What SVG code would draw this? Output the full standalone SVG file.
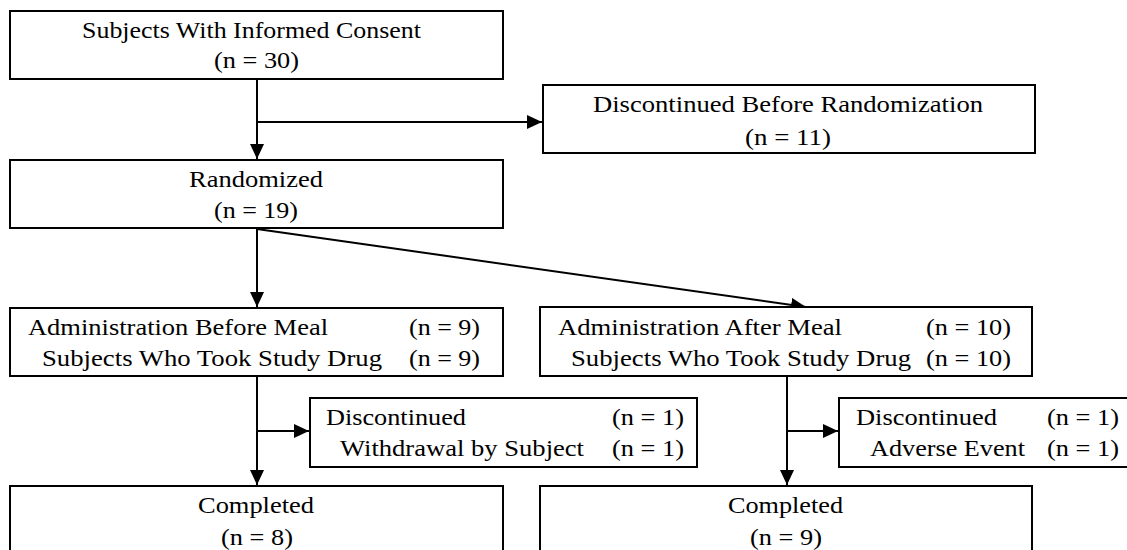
<svg xmlns="http://www.w3.org/2000/svg" width="1127" height="550" viewBox="0 0 1127 550">
<style>
.box{fill:#fff;stroke:#000;stroke-width:2}
.t{font-family:"Liberation Serif","Times New Roman",serif;font-size:23px;fill:#000}
.ln{stroke:#000;stroke-width:2;fill:none}
</style>
<defs>
<marker id="ah" markerUnits="userSpaceOnUse" markerWidth="16" markerHeight="16" viewBox="0 0 16 16" refX="15" refY="8" orient="auto">
<path d="M0,1 L15,8 L0,15 Z" fill="#000"/>
</marker>
</defs>
<rect width="1127" height="550" fill="#fff"/>
<g id="connectors">
<line class="ln" x1="257" y1="79" x2="257" y2="159" marker-end="url(#ah)"/>
<line class="ln" x1="257" y1="122" x2="542" y2="122" marker-end="url(#ah)"/>
<line class="ln" x1="257" y1="228" x2="257" y2="307" marker-end="url(#ah)"/>
<line class="ln" x1="257" y1="229" x2="806" y2="307" marker-end="url(#ah)"/>
<line class="ln" x1="257" y1="376" x2="257" y2="485" marker-end="url(#ah)"/>
<line class="ln" x1="257" y1="431" x2="309" y2="431" marker-end="url(#ah)"/>
<line class="ln" x1="787" y1="376" x2="787" y2="485" marker-end="url(#ah)"/>
<line class="ln" x1="787" y1="431" x2="838" y2="431" marker-end="url(#ah)"/>
</g>
<g id="consent">
<rect class="box" x="10" y="11" width="493" height="68"/>
<text class="t" x="82" y="38" textLength="339" lengthAdjust="spacingAndGlyphs">Subjects With Informed Consent</text>
<text class="t" x="214" y="68" textLength="85" lengthAdjust="spacingAndGlyphs">(n = 30)</text>
</g>
<g id="discBefore">
<rect class="box" x="543" y="85" width="492" height="68"/>
<text class="t" x="593" y="112" textLength="390" lengthAdjust="spacingAndGlyphs">Discontinued Before Randomization</text>
<text class="t" x="745" y="145" textLength="86" lengthAdjust="spacingAndGlyphs">(n = 11)</text>
</g>
<g id="randomized">
<rect class="box" x="10" y="160" width="493" height="68"/>
<text class="t" x="189" y="187" textLength="134" lengthAdjust="spacingAndGlyphs">Randomized</text>
<text class="t" x="214" y="218" textLength="84" lengthAdjust="spacingAndGlyphs">(n = 19)</text>
</g>
<g id="beforeMeal">
<rect class="box" x="10" y="308" width="493" height="68"/>
<text class="t" x="28" y="335" textLength="300" lengthAdjust="spacingAndGlyphs">Administration Before Meal</text>
<text class="t" x="42" y="366" textLength="340" lengthAdjust="spacingAndGlyphs">Subjects Who Took Study Drug</text>
<text class="t" x="409" y="335" textLength="71" lengthAdjust="spacingAndGlyphs">(n = 9)</text>
<text class="t" x="409" y="366" textLength="71" lengthAdjust="spacingAndGlyphs">(n = 9)</text>
</g>
<g id="afterMeal">
<rect class="box" x="540" y="307" width="492" height="69"/>
<text class="t" x="558" y="335" textLength="284" lengthAdjust="spacingAndGlyphs">Administration After Meal</text>
<text class="t" x="571" y="366" textLength="340" lengthAdjust="spacingAndGlyphs">Subjects Who Took Study Drug</text>
<text class="t" x="926" y="335" textLength="85" lengthAdjust="spacingAndGlyphs">(n = 10)</text>
<text class="t" x="926" y="366" textLength="85" lengthAdjust="spacingAndGlyphs">(n = 10)</text>
</g>
<g id="discLeft">
<rect class="box" x="310" y="398" width="387" height="69"/>
<text class="t" x="326" y="425" textLength="140" lengthAdjust="spacingAndGlyphs">Discontinued</text>
<text class="t" x="340" y="456" textLength="244" lengthAdjust="spacingAndGlyphs">Withdrawal by Subject</text>
<text class="t" x="612" y="425" textLength="72" lengthAdjust="spacingAndGlyphs">(n = 1)</text>
<text class="t" x="612" y="456" textLength="72" lengthAdjust="spacingAndGlyphs">(n = 1)</text>
</g>
<g id="discRight">
<rect class="box" x="839" y="398" width="300" height="69"/>
<text class="t" x="856" y="425" textLength="141" lengthAdjust="spacingAndGlyphs">Discontinued</text>
<text class="t" x="870" y="456" textLength="155" lengthAdjust="spacingAndGlyphs">Adverse Event</text>
<text class="t" x="1047" y="425" textLength="72" lengthAdjust="spacingAndGlyphs">(n = 1)</text>
<text class="t" x="1047" y="456" textLength="72" lengthAdjust="spacingAndGlyphs">(n = 1)</text>
</g>
<g id="completedLeft">
<rect class="box" x="10" y="486" width="493" height="70"/>
<text class="t" x="198" y="513" textLength="116" lengthAdjust="spacingAndGlyphs">Completed</text>
<text class="t" x="221" y="545" textLength="72" lengthAdjust="spacingAndGlyphs">(n = 8)</text>
</g>
<g id="completedRight">
<rect class="box" x="540" y="486" width="492" height="70"/>
<text class="t" x="728" y="513" textLength="115" lengthAdjust="spacingAndGlyphs">Completed</text>
<text class="t" x="750" y="545" textLength="72" lengthAdjust="spacingAndGlyphs">(n = 9)</text>
</g>
</svg>
